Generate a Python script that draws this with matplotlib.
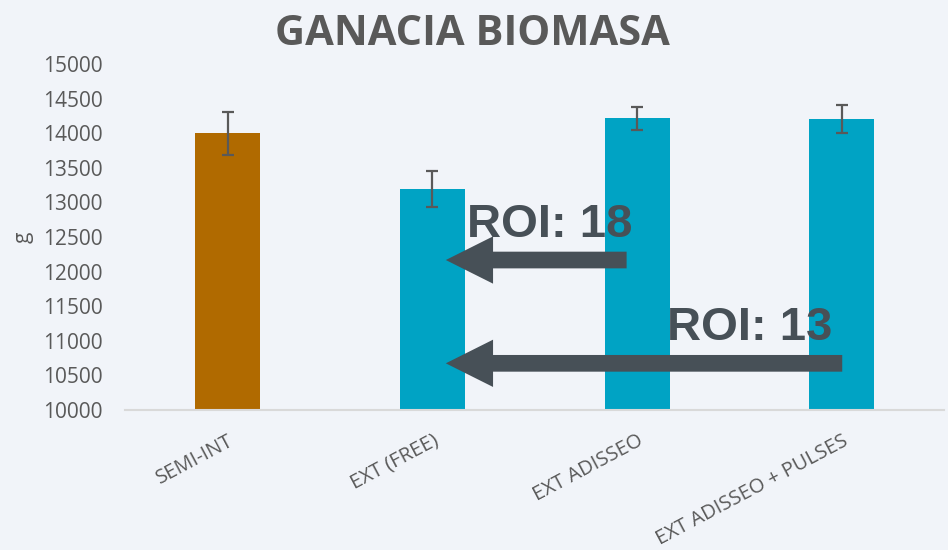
import matplotlib
matplotlib.use("Agg")
import matplotlib.pyplot as plt
from matplotlib.patches import FancyArrow

# === Datos ===
categorias = ["SEMI-INT", "EXT (FREE)", "EXT ADISSEO", "EXT ADISSEO + PULSES"]
biomasa = [14000, 13190, 14215, 14205]
error = [310, 260, 170, 205]
colores = ["#B06A00", "#00A3C4", "#00A3C4", "#00A3C4"]

# anotaciones ROI: texto, posicion del texto y de la flecha
roi_textos = ["ROI: 18", "ROI: 13"]
roi_x_texto = [1.168, 2.144]
roi_y_texto = [12500, 11012]
flecha_x_cola = [1.949, 3.002]
flecha_x_punta = [1.066, 1.066]
flecha_y = [12168, 10675]

# === Estilo ===
fondo = "#F1F4F9"
gris = "#595959"
gris_flecha = "#475057"

fig = plt.figure(figsize=(9.48, 5.5), dpi=100, facecolor=fondo)
ax = fig.add_axes([0.132, 0.2545, 0.864, 0.629])
ax.set_facecolor(fondo)

x = range(len(categorias))
ax.bar(x, biomasa, width=0.317, color=colores, zorder=2)
ax.errorbar(x, biomasa, yerr=error, fmt="none", ecolor=gris,
            elinewidth=1.6, capsize=4.5, capthick=1.6, zorder=3)

ax.set_xlim(-0.5, 3.5)
ax.set_ylim(10000, 15000)
ax.set_yticks(range(10000, 15001, 500))
ax.tick_params(axis="y", length=0, pad=16, labelsize=15, labelcolor=gris)
ax.tick_params(axis="x", length=0, pad=15)
ax.set_xticks(list(x))
ax.set_xticklabels(categorias, rotation=28, ha="right", va="top",
                   rotation_mode="anchor", fontsize=14.5, color=gris)
for lbl in ax.get_yticklabels() + ax.get_xticklabels():
    lbl.set_fontfamily("Open Sans")

for lado in ["top", "right", "left"]:
    ax.spines[lado].set_visible(False)
ax.spines["bottom"].set_color("#D9D9D9")
ax.spines["bottom"].set_linewidth(1.5)

ax.set_ylabel("g", fontsize=15, color=gris, family="Open Sans", labelpad=7)

fig.text(0.498, 0.938, "GANACIA BIOMASA", ha="center", va="center",
         fontsize=30, fontweight="bold", color=gris, family="Open Sans")

# === Flechas ROI ===
px_y = 0.0692  # pixeles por unidad en y
px_x = 205     # pixeles por unidad en x
for i in range(len(roi_textos)):
    dx = flecha_x_punta[i] - flecha_x_cola[i]
    flecha = FancyArrow(flecha_x_cola[i], flecha_y[i], dx, 0,
                        width=16.7 / px_y, head_width=47.3 / px_y,
                        head_length=47.3 / px_x, length_includes_head=True,
                        color=gris_flecha, lw=0, zorder=4)
    ax.add_patch(flecha)
    ax.text(roi_x_texto[i], roi_y_texto[i], roi_textos[i], ha="left",
            va="baseline", fontsize=34, fontweight="bold",
            family="Liberation Sans", color=gris_flecha, zorder=5)

fig.savefig("out.png", dpi=100, facecolor=fondo)
